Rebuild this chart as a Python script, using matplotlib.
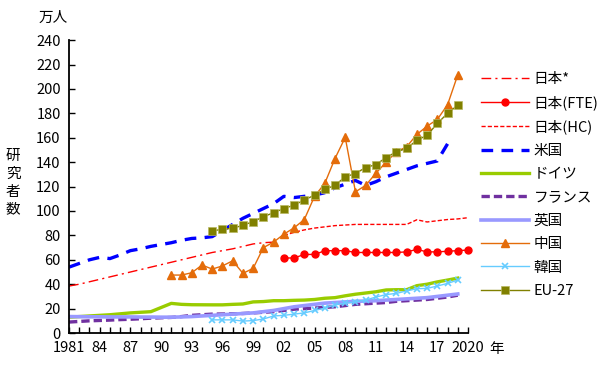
import numpy as np
import matplotlib.pyplot as plt

plt.rcParams['font.family'] = ['Noto Sans CJK JP', 'DejaVu Sans']

# values in 万人
jp_old_years = list(range(1981, 2002))
jp_old = [38.5, 40, 42, 44, 46, 48, 50, 52, 54, 56, 58, 60, 62, 64, 66, 67.5, 69, 71, 73, 74, 74.5]

jp_fte_years = list(range(2002, 2021))
jp_fte = [61.5, 61.5, 64.4, 64.4, 67.4, 67.5, 67.5, 66, 66, 66, 66, 66, 66.5, 68.5, 66.5, 66.5, 67, 67.5, 68]

jp_hc_years = list(range(2002, 2021))
jp_hc = [80, 82.5, 84.5, 86, 87, 88, 88.5, 89, 89, 89, 89, 89, 89, 92.8, 91, 92, 93, 93.5, 94.5]

us_years = list(range(1981, 2019))
us = [54, 57, 60, 62, 61, 64, 67.5, 69, 71, 72.5, 74, 76, 77.5, 78, 79, 84, 89, 94, 98, 102,
      106, 112, 111, 112, 113, 115, 119, 122, 125, 121, 124, 128, 131, 134, 137, 139, 141, 155]

de_years = [1981, 1983, 1985, 1987, 1989, 1991, 1992, 1993, 1995, 1996, 1997, 1998, 1999, 2000,
            2001, 2002, 2003, 2004, 2005, 2006, 2007, 2008, 2009, 2010, 2011, 2012, 2013, 2014,
            2015, 2016, 2017, 2018, 2019]
de = [13, 14, 15, 16.5, 17.5, 24.3, 23.5, 23.2, 23.1, 23.1, 23.5, 23.8, 25.5, 25.8,
      26.5, 26.5, 26.8, 27, 27.5, 28.5, 29, 30.5, 31.8, 32.8, 33.8, 35.3, 35.5, 35.5,
      38.8, 40, 41.9, 43.4, 45]

fr_years = list(range(1981, 2020))
fr = [9, 9.5, 10, 10.3, 10.6, 11, 11.3, 11.7, 12.2, 12.5, 12.8, 13.5, 14.5, 15, 15.5, 15.6, 15.8, 16,
      16.5, 17, 17.5, 18.5, 19.5, 20, 20.5, 21, 21.5, 22.5, 23.5, 24, 24.5, 25, 26, 26.5, 27, 27.5,
      28.5, 29.5, 31]

uk_years = list(range(1981, 2020))
uk = [13.5, 13.4, 13.3, 13.3, 13.2, 13.2, 13.2, 13.1, 13.1, 13, 13, 13.2, 13.5, 14, 14.5, 15, 15.5, 16,
      16.5, 17.5, 18.5, 20, 21.5, 22.5, 23.5, 24.5, 25, 25.5, 26, 26.2, 26.5, 27, 27.5, 28, 28.5, 29,
      30, 31, 32]

cn_years = list(range(1991, 2020))
cn = [47.5, 47.5, 49.4, 55.7, 52.4, 55, 59.2, 48.9, 53, 70, 74.5, 81, 86.2, 93, 112, 122.6, 143, 160.3,
      115.7, 121, 131, 140, 148.5, 152.6, 162.7, 169.5, 175, 187, 211.5]

kr_years = list(range(1995, 2020))
kr = [10.8, 10.8, 10.8, 9.8, 10.2, 11.5, 14, 14.5, 15.5, 16.5, 18.5, 20.5, 23, 24.5, 25.5, 27, 29.5,
      31.5, 32.5, 34.5, 36.3, 36.6, 38.5, 40.7, 43.4]

eu_years = list(range(1995, 2020))
eu = [83.5, 85.2, 85.7, 88.4, 91.2, 95.3, 98.6, 102, 104.8, 109, 113, 117.7, 121, 128, 130.7, 135.6,
      138, 143.8, 148.5, 151.2, 158, 162, 171.7, 180, 186.7]

fig = plt.figure(figsize=(6, 3.68), dpi=100)
ax = fig.add_axes([0.115, 0.095, 0.665, 0.796])

ax.plot(jp_old_years, jp_old, color='#FF0000', lw=1, dashes=(7, 3, 1.5, 3), label='日本*')
ax.plot(jp_fte_years, jp_fte, color='#FF0000', lw=1, marker='o', ms=5, label='日本(FTE)', clip_on=False)
ax.plot(jp_hc_years, jp_hc, color='#FF0000', lw=1, dashes=(3, 1.5), label='日本(HC)')
ax.plot(us_years, us, color='#0000FF', lw=2.4, dashes=(3.5, 2.5), label='米国')
ax.plot(de_years, de, color='#99CC00', lw=2.4, label='ドイツ')
ax.plot(fr_years, fr, color='#7030A0', lw=2.4, dashes=(2.5, 1.2), label='フランス')
ax.plot(uk_years, uk, color='#9999FF', lw=2.6, label='英国')
ax.plot(cn_years, cn, color='#E46C0A', lw=1, marker='^', ms=5.5, label='中国', clip_on=False)
ax.plot(kr_years, kr, color='#66CCFF', lw=1, marker='x', ms=4.5, mew=1.2, label='韓国')
ax.plot(eu_years, eu, color='#808000', lw=1, marker='s', ms=5.5, mec='#B8B860', mew=0.5,
        label='EU-27', clip_on=False)

ax.set_xlim(1981, 2020)
ax.set_ylim(0, 240)
ax.spines['top'].set_visible(False)
ax.spines['right'].set_visible(False)
ax.spines['left'].set_linewidth(1.3)
ax.spines['bottom'].set_linewidth(1.3)

years = list(range(1981, 2021))
labels = []
for y in years:
    if y in (1981, 2020):
        labels.append(str(y))
    elif (y - 1981) % 3 == 0:
        labels.append('%02d' % (y % 100))
    else:
        labels.append('')
ax.set_xticks(years)
ax.set_xticklabels(labels, fontsize=10.5)
ax.set_yticks(range(0, 241, 20))
ax.tick_params(axis='both', direction='in', length=4, width=1, labelsize=10.5)
ax.tick_params(axis='x', pad=6)
ax.tick_params(axis='y', pad=6)

fig.text(0.088, 0.952, '万人', fontsize=10.5, ha='center', va='center')
fig.text(0.828, 0.052, '年', fontsize=10.5, ha='center', va='center')
for i, ch in enumerate('研究者数'):
    fig.text(0.022, 0.575 - i * 0.048, ch, fontsize=10.5, ha='center', va='center')

ax.legend(loc='upper left', bbox_to_anchor=(1.018, 0.91), frameon=False, fontsize=10.5,
          handlelength=3.3, handletextpad=0.3, labelspacing=0.64, borderaxespad=0)

fig.savefig('out.png', dpi=100)
